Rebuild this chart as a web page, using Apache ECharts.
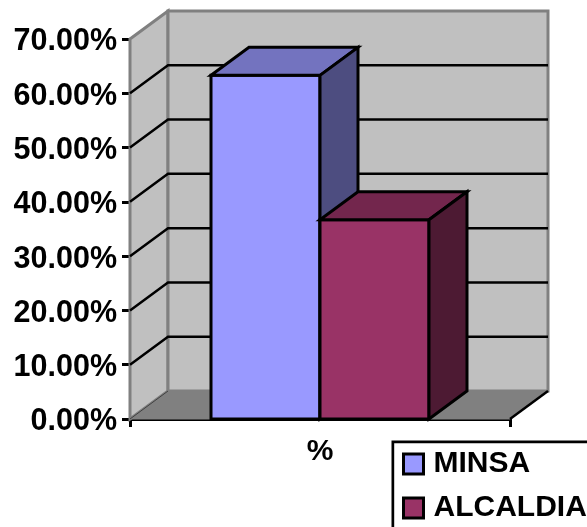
<!DOCTYPE html>
<html>
<head>
<meta charset="utf-8">
<script src="https://cdn.jsdelivr.net/npm/echarts@6/dist/echarts.min.js"></script>
<style>html,body{margin:0;padding:0;background:#fff}#c{width:587px;height:527px}</style>
</head>
<body>
<div id="c"></div>
<script>
const categories = ['%'];
const seriesNames = ['MINSA', 'ALCALDIA'];
const minsaValues = [63.3];
const alcaldiaValues = [36.7];
const yTicks = [0, 10, 20, 30, 40, 50, 60, 70];
const yMin = 0, yMax = 70, yStep = 10;

const DX = 38, DY = -28, BAR_RATIO = 109 / 380;
const FONT = '"Liberation Sans", Arial, sans-serif';

function poly(pts, fill, stroke, lw) {
  return { type: 'polygon', shape: { points: pts },
    style: { fill: fill, stroke: stroke, lineWidth: lw, lineJoin: 'miter' } };
}
function seg(a, b, stroke, lw) {
  return { type: 'line', shape: { x1: a[0], y1: a[1], x2: b[0], y2: b[1] },
    style: { stroke: stroke, lineWidth: lw } };
}

function renderWalls(params, api) {
  const c0 = api.coord([api.value(0), yMin]);
  const c1 = api.coord([api.value(0), yMax]);
  const w = api.size([1, 0])[0];
  const l = c0[0] - w / 2, r = c0[0] + w / 2, b = c0[1], t = c1[1];
  return { type: 'group', children: [
    poly([[l, b], [r, b], [r + DX, b + DY], [l + DX, b + DY]], '#808080', '#808080', 1),
    poly([[l, t], [l + DX, t + DY], [l + DX, b + DY], [l, b]], '#C0C0C0', '#808080', 3),
    poly([[l + DX, t + DY], [r + DX, t + DY], [r + DX, b + DY], [l + DX, b + DY]], '#C0C0C0', '#808080', 3),
    seg([l, b], [l + DX, b + DY], '#404040', 1),
    seg([r, b], [r + DX, b + DY], '#000', 2.5)
  ]};
}

function renderGrid(params, api) {
  const p = api.coord([0, api.value(1)]);
  const w = api.size([1, 0])[0];
  const l = p[0] - w / 2, r = p[0] + w / 2, y = p[1];
  return { type: 'polyline',
    shape: { points: [[l, y], [l + DX, y + DY], [r + DX, y + DY]] },
    style: { fill: null, stroke: '#000', lineWidth: 2.5 } };
}

function barRenderer(idx, front, top, side) {
  return function (params, api) {
    const p = api.coord([api.value(0), api.value(1)]);
    const base = api.coord([api.value(0), yMin]);
    const bw = api.size([1, 0])[0] * BAR_RATIO;
    const x0 = p[0] + (idx - 1) * bw, x1 = x0 + bw, y = p[1], b = base[1];
    return { type: 'group', children: [
      poly([[x0, y], [x1, y], [x1, b], [x0, b]], front, '#000', 3),
      poly([[x0, y], [x1, y], [x1 + DX, y + DY], [x0 + DX, y + DY]], top, '#000', 3),
      poly([[x1, y], [x1 + DX, y + DY], [x1 + DX, b + DY], [x1, b]], side, '#000', 3)
    ]};
  };
}

const chart = echarts.init(document.getElementById('c'), null, { renderer: 'canvas' });
chart.setOption({
  animation: false,
  backgroundColor: '#fff',
  grid: { left: 130, top: 39, width: 380, height: 380, containLabel: false },
  graphic: [{
    type: 'rect', z: 0, left: 391.5, top: 440.5,
    shape: { x: 0, y: 0, width: 260, height: 140 },
    style: { fill: '#fff', stroke: '#000', lineWidth: 2.7 }
  }],
  legend: {
    data: seriesNames,
    orient: 'vertical',
    left: 402,
    top: 449,
    padding: 0,
    itemGap: 14,
    itemWidth: 20,
    itemHeight: 20,
    icon: 'rect',
    itemStyle: { borderColor: '#000', borderWidth: 3 },
    z: 10,
    selectedMode: false,
    textStyle: { fontFamily: FONT, fontWeight: 'bold', fontSize: 30, color: '#000', padding: [0, 0, 0, 5] }
  },
  xAxis: {
    type: 'category',
    data: categories,
    axisLine: { show: true, lineStyle: { color: '#000', width: 3 } },
    axisTick: { show: true, length: 8, lineStyle: { color: '#000', width: 3 } },
    axisLabel: { fontFamily: FONT, fontWeight: 'bold', fontSize: 30, color: '#000', margin: 18 }
  },
  yAxis: {
    type: 'value',
    min: yMin, max: yMax, interval: yStep,
    splitLine: { show: false },
    axisLine: { show: true, lineStyle: { color: '#000', width: 3 } },
    axisTick: { show: true, length: 8, lineStyle: { color: '#000', width: 3 } },
    axisLabel: {
      fontFamily: FONT, fontWeight: 'bold', fontSize: 30.5, color: '#000', margin: 13,
      verticalAlign: 'top', lineHeight: 6,
      formatter: v => v.toFixed(2) + '%'
    }
  },
  series: [
    { name: 'walls', type: 'custom', silent: true, z: 1, renderItem: renderWalls, data: [[0, yMax]] },
    { name: 'gridlines', type: 'custom', silent: true, z: 2, renderItem: renderGrid,
      data: yTicks.slice(1, -1).map(v => [0, v]) },
    { name: seriesNames[0], type: 'custom', z: 3, itemStyle: { color: '#9999FF' },
      renderItem: barRenderer(0, '#9999FF', '#7373BF', '#4D4D80'),
      data: minsaValues.map((v, i) => [i, v]) },
    { name: seriesNames[1], type: 'custom', z: 4, itemStyle: { color: '#993366' },
      renderItem: barRenderer(1, '#993366', '#73264D', '#4D1A33'),
      data: alcaldiaValues.map((v, i) => [i, v]) }
  ]
});
</script>
</body>
</html>
